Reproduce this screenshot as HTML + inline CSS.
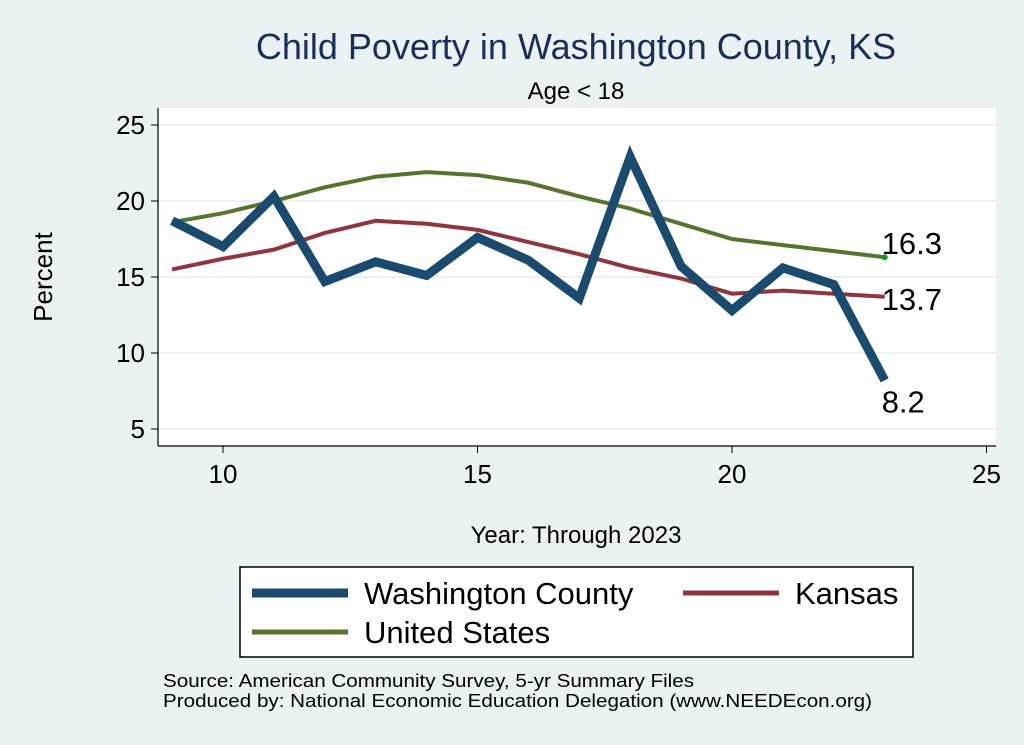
<!DOCTYPE html>
<html><head><meta charset="utf-8"><style>
body{margin:0;background:#eaf2f3;}
svg{display:block;font-family:"Liberation Sans",Arial,sans-serif;}
</style></head><body>
<svg id="c" width="1024" height="745">
<rect x="0" y="0" width="1024" height="745" fill="#eaf2f3"/>
<text x="576" y="59" font-size="36" fill="#1a2e5a" text-anchor="middle">Child Poverty in Washington County, KS</text>
<text x="576" y="99" font-size="24" text-anchor="middle">Age &lt; 18</text>
<rect x="158" y="108" width="838" height="338" fill="#fff"/>
<g id="grid"></g><g id="axes"></g><g id="series"></g>
<text x="52" y="277" font-size="26" text-anchor="middle" transform="rotate(-90 52 277)">Percent</text>
<text x="576" y="543" font-size="24" text-anchor="middle">Year: Through 2023</text>
<g>
<rect x="240" y="567" width="673" height="90" fill="#fff" stroke="#000" stroke-width="1.5"/>
<line x1="252" y1="593" x2="348" y2="593" stroke="#1a4a6e" stroke-width="9"/>
<text x="364" y="604" font-size="31">Washington County</text>
<line x1="683" y1="593" x2="779" y2="593" stroke="#90353b" stroke-width="5"/>
<text x="795" y="604" font-size="31">Kansas</text>
<line x1="252" y1="632" x2="348" y2="632" stroke="#55752f" stroke-width="5"/>
<text x="364" y="643" font-size="31">United States</text>
</g>
<text x="163" y="687" font-size="18" textLength="531" lengthAdjust="spacingAndGlyphs">Source: American Community Survey, 5-yr Summary Files</text>
<text x="163" y="707" font-size="18" textLength="709" lengthAdjust="spacingAndGlyphs">Produced by: National Economic Education Delegation (www.NEEDEcon.org)</text>
</svg>
<script>
const years=[9,10,11,12,13,14,15,16,17,18,19,20,21,22,23];
const washington=[18.7,17.0,20.3,14.7,16.0,15.1,17.6,16.1,13.6,22.9,15.7,12.8,15.6,14.5,8.2];
const kansas=[15.5,16.2,16.8,17.9,18.7,18.5,18.1,17.3,16.5,15.6,14.9,13.9,14.1,13.9,13.7];
const us=[18.6,19.2,20.0,20.9,21.6,21.9,21.7,21.2,20.3,19.5,18.5,17.5,17.1,16.7,16.3];
const xTicks=[10,15,20,25];
const yTicks=[5,10,15,20,25];
const NS='http://www.w3.org/2000/svg';
const X=v=>223+(v-10)*50.9;
const Y=v=>429-(v-5)*15.2;
function mk(t,a,p){const e=document.createElementNS(NS,t);for(const k in a)e.setAttribute(k,a[k]);p.appendChild(e);return e;}
const grid=document.getElementById('grid'),axes=document.getElementById('axes'),ser=document.getElementById('series');
mk('line',{x1:158,y1:108,x2:158,y2:446,stroke:'#000','stroke-width':1.2},axes);
mk('line',{x1:158,y1:446,x2:996,y2:446,stroke:'#000','stroke-width':1.2},axes);
yTicks.forEach(v=>{
 const g=mk('line',{x1:158,y1:Y(v),x2:996,y2:Y(v),stroke:'#e6ecef','stroke-width':1.5},grid);
 
 
 mk('line',{x1:151,y1:Y(v),x2:158,y2:Y(v),stroke:'#000'},axes);
 const t=mk('text',{x:145,y:Y(v)+9,'font-size':26,'text-anchor':'end'},axes);t.textContent=v;
 
 
});
xTicks.forEach(v=>{
 mk('line',{x1:X(v),y1:446,x2:X(v),y2:453,stroke:'#000'},axes);
 const t=mk('text',{x:X(v),y:483,'font-size':26,'text-anchor':'middle'},axes);t.textContent=v;
 
 
});
function line(vals,color,w,name){
 const p=mk('polyline',{points:vals.map((v,i)=>X(years[i])+','+Y(v)).join(' '),fill:'none',stroke:color,'stroke-width':w,'stroke-linejoin':'miter'},ser);
 
 
}
line(us,'#55752f',4,'line-united-states');
line(kansas,'#90353b',4,'line-kansas');
line(washington,'#1a4a6e',9,'line-washington-county');
const n=years.length-1;
const dot=mk('circle',{cx:X(years[n]),cy:Y(us[n]),r:3,fill:'#1a9a1a'},ser);


[[us,-3,'label-us-end'],[kansas,13,'label-kansas-end'],[washington,32,'label-washington-end']].forEach(([a,dy,nm])=>{
 const t=mk('text',{x:X(years[n])-3,y:Y(a[n])+dy,'font-size':31},ser);t.textContent=a[n].toFixed(1);
 
 
});
</script>
</body></html>
